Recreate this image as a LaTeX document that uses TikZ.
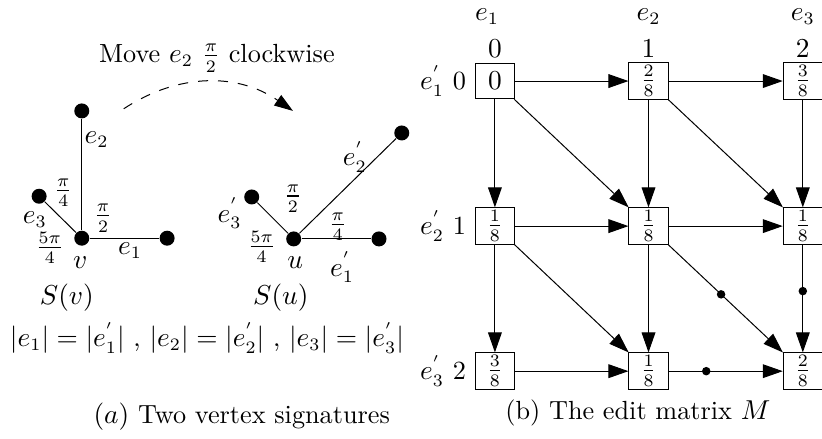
\documentclass[tikz,border=0pt]{standalone}
\usepackage{amsmath}
\usepackage{tikz}
\usetikzlibrary{positioning, arrows.meta}
\tikzset{
    vertex/.style    = {circle, fill, inner sep=0pt, minimum size=6pt},
    cell/.style      = {draw, inner sep=1pt, minimum width=0.55cm, minimum height=0.5cm},
    pfeil/.style     = {-{Triangle[length=8pt, width=5.5pt]}},
    knot/.style      = {circle, fill, inner sep=0pt, minimum size=3.4pt},
    move/.style      = {dash pattern=on 4pt off 4pt, -{Triangle[length=7.5pt, width=5pt]}}
}
\begin{document}
\begin{tikzpicture}[x=1cm, y=1cm, every node/.style={font=\fontsize{10.5pt}{12.6pt}\selectfont}]
        \useasboundingbox (0,0) rectangle (11.56,6.16);

        % --- S(v) ---
        \node[vertex] (v)  at (1.15,2.81) {};
        \node[vertex] (v1) at (2.35,2.81) {};
        \node[vertex] (v2) at (1.15,4.60) {};
        \node[vertex] (v3) at (0.55,3.40) {};
        \draw (v) -- (v1);
        \draw (v) -- (v2);
        \draw (v) -- (v3);
        \node (lv)  at (1.13,2.47) {$v$};
        \node (lv1) at (1.83,2.64) {$e_1$};
        \node (lv2) at (1.36,4.20) {$e_2$};
        \node (lv3) at (0.49,3.07) {$e_3$};
        \node (av1) at (1.45,3.09) {$\frac{\pi}{2}$};
        \node (av2) at (0.89,3.45) {$\frac{\pi}{4}$};
        \node (av3) at (0.70,2.67) {$\frac{5\pi}{4}$};
        \node (sv)  at (0.94,1.98) {$S(v)$};

        % --- S(u) ---
        \node[vertex] (u)  at (4.13,2.80) {};
        \node[vertex] (u1) at (5.33,2.80) {};
        \node[vertex] (u2) at (5.65,4.29) {};
        \node[vertex] (u3) at (3.54,3.39) {};
        \draw (u) -- (u1);
        \draw (u) -- (u2);
        \draw (u) -- (u3);
        \node (lu)  at (4.15,2.47) {$u$};
        \node (lu1) at (4.81,2.40) {$e_1^{'}$};
        \node (lu2) at (4.99,3.95) {$e_2^{'}$};
        \node (lu3) at (3.23,3.16) {$e_3^{'}$};
        \node (au1) at (4.75,2.97) {$\frac{\pi}{4}$};
        \node (au2) at (4.12,3.37) {$\frac{\pi}{2}$};
        \node (au3) at (3.68,2.69) {$\frac{5\pi}{4}$};
        \node (su)  at (3.95,1.98) {$S(u)$};

        % --- Drehung ---
        \node (title) at (3.05,5.34) {Move $e_2$ $\frac{\pi}{2}$ clockwise};
        \coordinate (mvA) at (1.74,4.63);
        \coordinate (mvB) at (4.12,4.60);
        \draw[move] (mvA) to[bend left=34] (mvB);

        \node (eq)   at (2.91,1.41) {$|e_1| = |e_1^{'}|$ , $|e_2| = |e_2^{'}|$ , $|e_3| = |e_3^{'}|$};
        \node (capa) at (3.40,0.30) {$(a)$ Two vertex signatures};

        % --- Matrix M ---
        \node[cell] (m00) at (6.96,5.02)  {$0$};
        \node[cell] (m10) at (9.12,5.02)  {$\frac{2}{8}$};
        \node[cell] (m20) at (11.29,5.02) {$\frac{3}{8}$};
        \node[cell] (m01) at (6.96,2.98)  {$\frac{1}{8}$};
        \node[cell] (m11) at (9.12,2.98)  {$\frac{1}{8}$};
        \node[cell] (m21) at (11.29,2.98) {$\frac{1}{8}$};
        \node[cell] (m02) at (6.96,0.94)  {$\frac{3}{8}$};
        \node[cell] (m12) at (9.12,0.94)  {$\frac{1}{8}$};
        \node[cell] (m22) at (11.29,0.94) {$\frac{2}{8}$};

        \node (c0) at (6.96,5.48)  {$0$};
        \node (c1) at (9.12,5.48)  {$1$};
        \node (c2) at (11.29,5.48) {$2$};
        \node (h0) at (6.85,5.93)  {$e_1$};
        \node (h1) at (9.12,5.93)  {$e_2$};
        \node (h2) at (11.29,5.93) {$e_3$};
        \node[left=0pt of m00] (r0) {$e_1^{'}$ 0};
        \node[left=0pt of m01] (r1) {$e_2^{'}$ 1};
        \node[left=0pt of m02] (r2) {$e_3^{'}$ 2};

        \draw[pfeil] (m00) -- (m10);
        \draw[pfeil] (m10) -- (m20);
        \draw[pfeil] (m01) -- (m11);
        \draw[pfeil] (m11) -- (m21);
        \draw[pfeil] (m02) -- (m12);
        \draw[pfeil] (m12) -- node[knot, pos=0.33] (k1) {} (m22);

        \draw[pfeil] (m00) -- (m01);
        \draw[pfeil] (m01) -- (m02);
        \draw[pfeil] (m10) -- (m11);
        \draw[pfeil] (m11) -- (m12);
        \draw[pfeil] (m20) -- (m21);
        \draw[pfeil] (m21) -- node[knot, pos=0.43] (k2) {} (m22);

        \draw[pfeil] (m00) -- (m11);
        \draw[pfeil] (m10) -- (m21);
        \draw[pfeil] (m01) -- (m12);
        \draw[pfeil] (m11) -- node[knot, pos=0.46] (k3) {} (m22);

        \node (capb) at (8.97,0.35) {(b) The edit matrix $M$};
    \end{tikzpicture}
\end{document}
